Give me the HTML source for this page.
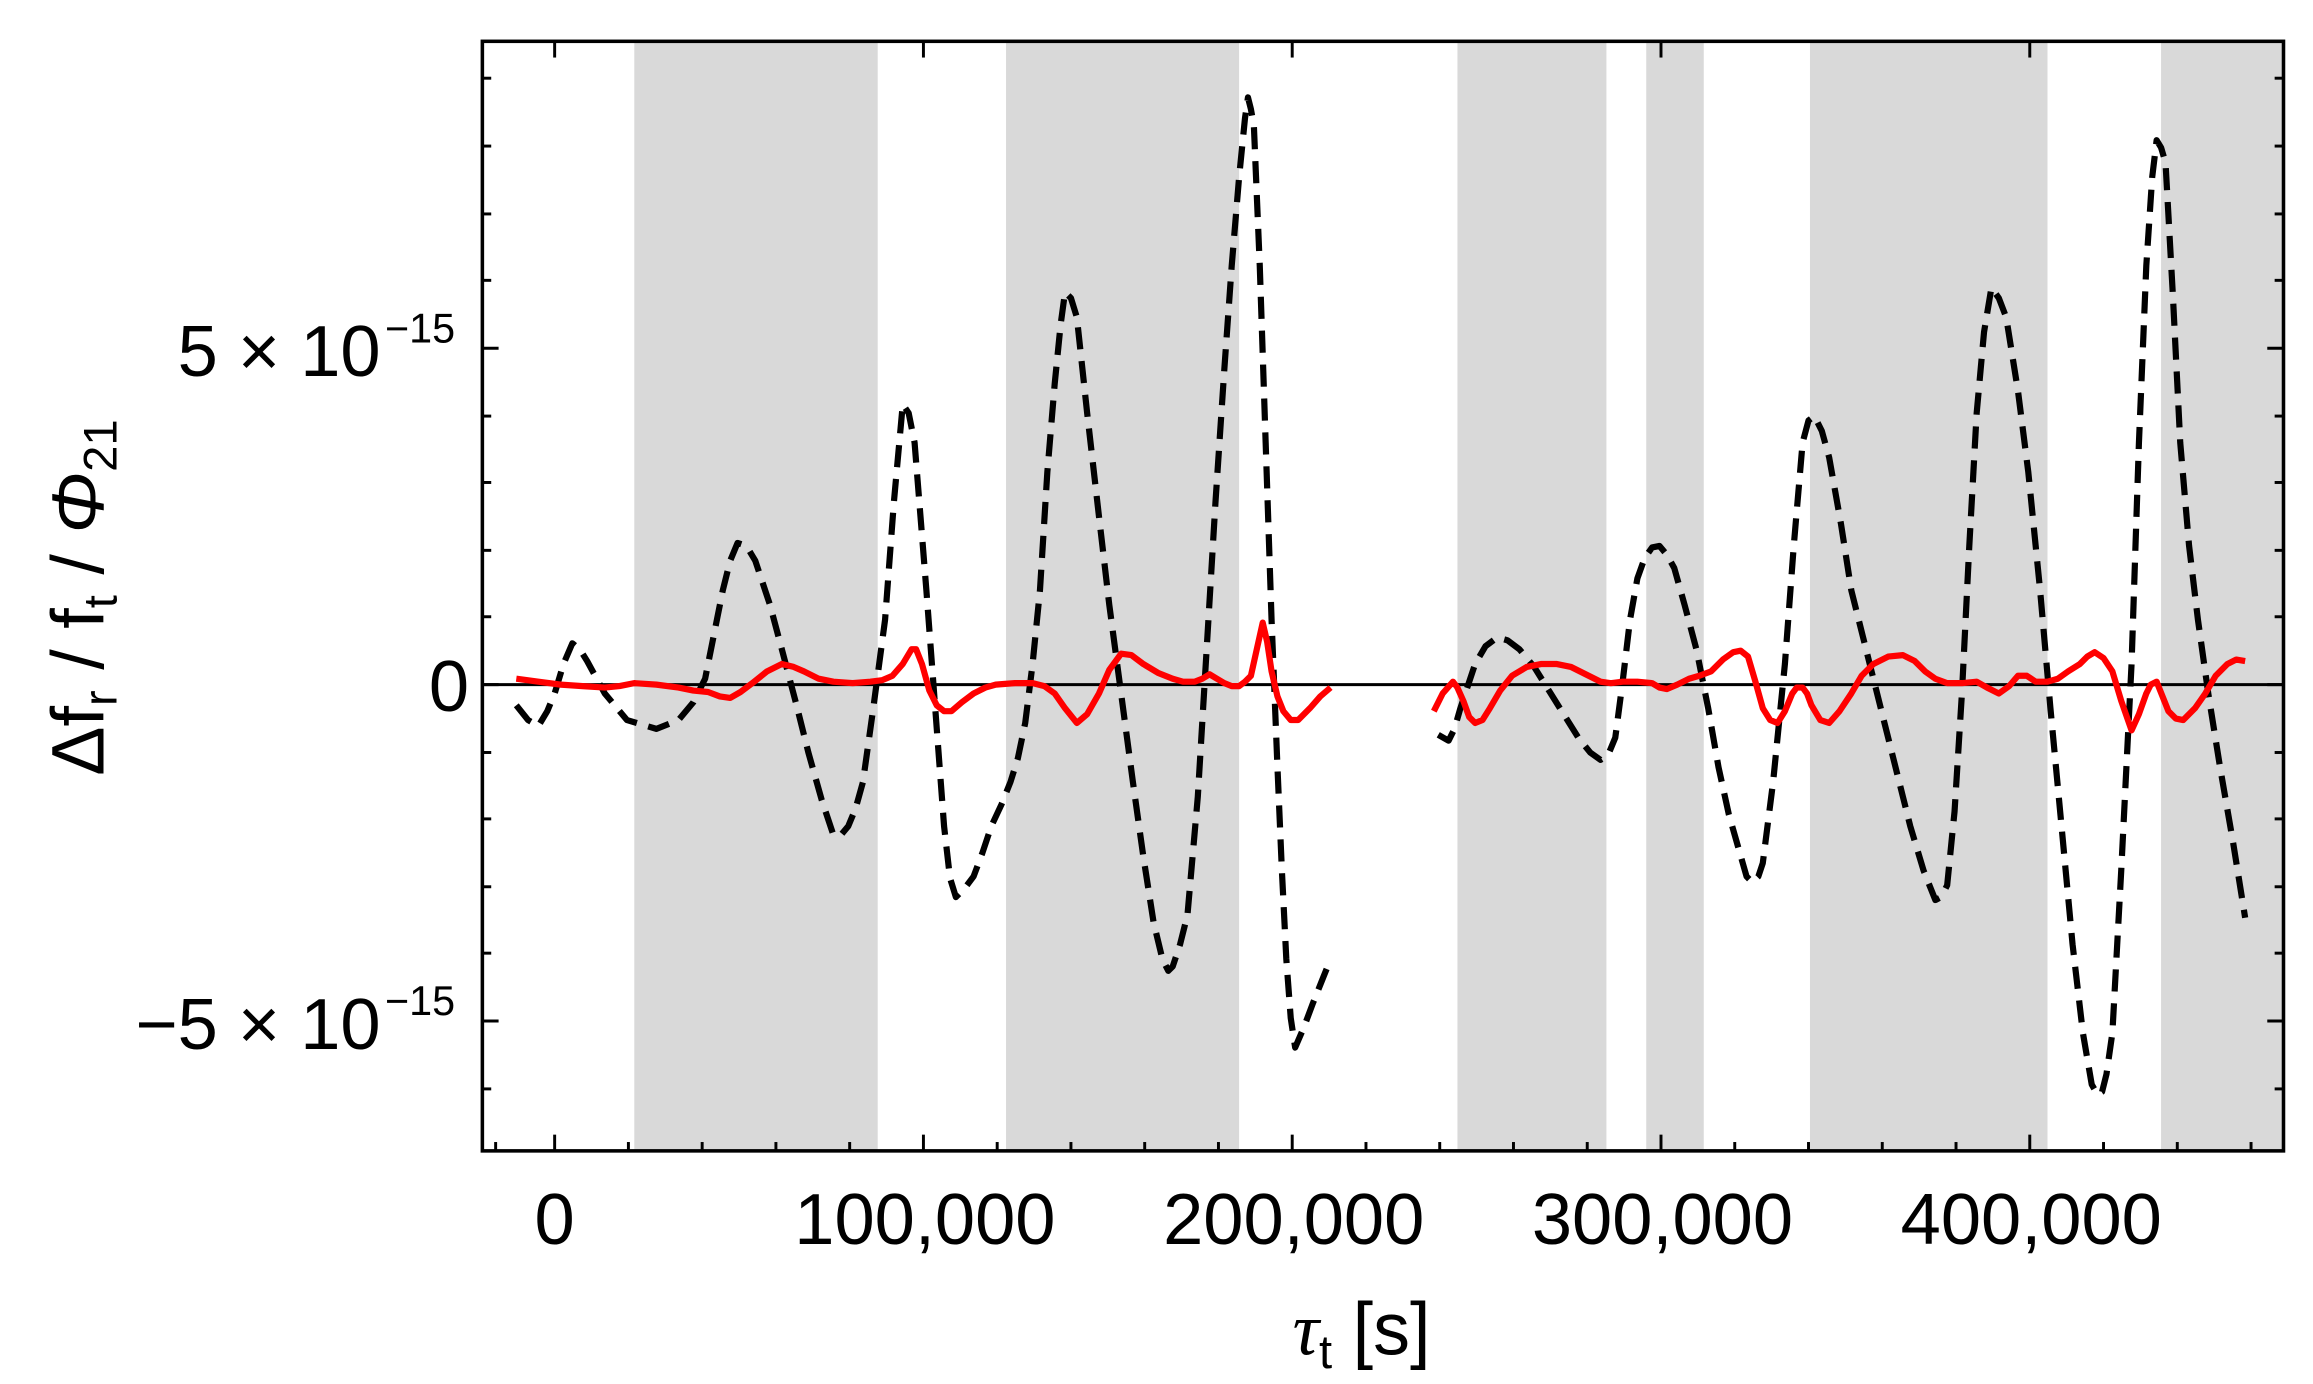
<!DOCTYPE html>
<html><head><meta charset="utf-8"><style>
html,body{margin:0;padding:0;background:#fff;}
svg{display:block;}
text{font-family:"Liberation Sans",sans-serif;fill:#000;}
</style></head><body>
<svg width="2313" height="1384" viewBox="0 0 1568 938" preserveAspectRatio="none" xmlns="http://www.w3.org/2000/svg">
<rect x="0" y="0" width="1568" height="938" fill="#fff"/>
<g fill="#d9d9d9">
<rect x="430" y="28" width="165" height="752"/>
<rect x="682" y="28" width="158" height="752"/>
<rect x="988" y="28" width="101" height="752"/>
<rect x="1116" y="28" width="39" height="752"/>
<rect x="1227" y="28" width="161" height="752"/>
<rect x="1465" y="28" width="83" height="752"/>
</g>
<line x1="327" y1="464" x2="1548" y2="464" stroke="#000" stroke-width="2"/>
<polyline fill="none" stroke="#000" stroke-width="4.2" stroke-dasharray="15,8" stroke-linejoin="round" points="350,478 358,488 365,492 371,482 376,470 382,450 388,436 393,440 398,448 410,470 425,488 445,494 460,488 470,476 478,460 485,425 490,400 495,380 500,368 506,370 512,380 522,410 530,440 540,478 548,510 557,542 565,566 570,566 575,560 580,548 585,530 592,480 600,420 606,340 612,274 616,280 620,300 624,350 628,400 634,480 640,560 644,595 648,608 654,602 660,594 666,578 672,560 679,545 685,530 690,514 695,490 700,450 705,400 710,320 715,260 719,220 722,198 726,202 730,215 737,280 745,350 752,410 760,470 768,530 775,580 782,625 788,650 792,658 795,655 800,640 805,620 812,540 818,440 824,340 830,250 835,180 840,120 844,80 846,66 848,74 850,85 854,180 858,300 862,420 866,520 869,590 872,650 875,690 878,710 884,696 890,680 896,665 902,650"/>
<polyline fill="none" stroke="#000" stroke-width="4.2" stroke-dasharray="15,8" stroke-linejoin="round" points="975,498 982,502 986,494 990,480 995,465 1000,450 1007,438 1015,432 1022,434 1030,440 1040,452 1050,468 1060,484 1070,500 1078,510 1085,515 1090,512 1095,500 1100,462 1105,420 1110,392 1115,378 1120,371 1125,370 1130,376 1135,385 1142,410 1150,440 1158,480 1165,520 1172,552 1180,580 1184,594 1188,598 1192,594 1195,585 1202,530 1210,450 1216,370 1222,300 1226,285 1230,282 1235,292 1240,310 1248,355 1255,400 1265,440 1275,480 1285,520 1295,560 1304,590 1312,610 1316,608 1320,600 1325,550 1330,470 1335,370 1340,280 1345,225 1350,195 1355,202 1360,215 1368,265 1375,320 1383,400 1390,480 1398,565 1405,640 1412,700 1418,735 1422,742 1425,740 1428,728 1432,700 1438,590 1445,450 1450,300 1455,180 1459,120 1462,95 1465,100 1468,110 1473,200 1478,300 1484,370 1490,420 1497,470 1505,520 1514,572 1522,622"/>
<polyline fill="none" stroke="#ff0000" stroke-width="4.2" stroke-linejoin="round" points="350,460 365,462 380,464 395,465 410,466 420,465 430,463 445,464 460,466 470,468 480,469 488,472 495,473 502,469 510,463 520,455 530,450 538,452 545,455 555,460 565,462 578,463 590,462 598,461 605,458 612,450 618,440 621,440 625,450 630,468 635,478 640,482 645,482 652,476 660,470 668,466 675,464 688,463 700,463 708,465 715,470 722,480 730,490 737,484 745,470 752,454 760,443 767,444 775,450 785,456 795,460 802,462 810,462 815,460 820,457 825,460 830,463 835,465 840,465 844,462 848,458 852,440 856,422 859,435 862,455 866,472 870,482 875,488 880,488 888,480 895,472 902,466"/>
<polyline fill="none" stroke="#ff0000" stroke-width="4.2" stroke-linejoin="round" points="972,482 978,470 985,462 988,466 992,475 996,486 1000,490 1005,488 1010,480 1017,468 1025,458 1035,452 1045,450 1055,450 1065,452 1075,457 1085,462 1092,463 1100,462 1110,462 1120,463 1125,466 1130,467 1137,464 1145,460 1152,458 1160,455 1168,447 1175,442 1180,441 1185,445 1190,462 1195,480 1200,488 1205,490 1210,482 1215,470 1218,466 1222,466 1225,470 1228,478 1234,488 1240,490 1247,482 1255,470 1262,458 1270,450 1280,445 1290,444 1298,448 1305,455 1312,460 1320,463 1330,463 1340,462 1347,466 1355,470 1362,465 1368,458 1374,458 1380,462 1388,462 1395,460 1402,455 1410,450 1415,445 1420,442 1426,446 1432,455 1438,475 1445,495 1450,484 1455,470 1458,464 1462,462 1466,472 1470,482 1475,487 1480,488 1488,480 1495,470 1502,458 1510,450 1516,447 1522,448"/>
<rect x="327" y="28" width="1221" height="752" fill="none" stroke="#000" stroke-width="2.4"/>
<g stroke="#000" stroke-width="2">
<line x1="376" y1="780" x2="376" y2="769"/><line x1="626" y1="780" x2="626" y2="769"/><line x1="876" y1="780" x2="876" y2="769"/><line x1="1126" y1="780" x2="1126" y2="769"/><line x1="1376" y1="780" x2="1376" y2="769"/>
<line x1="376" y1="28" x2="376" y2="39"/><line x1="626" y1="28" x2="626" y2="39"/><line x1="876" y1="28" x2="876" y2="39"/><line x1="1126" y1="28" x2="1126" y2="39"/><line x1="1376" y1="28" x2="1376" y2="39"/>
<line x1="426" y1="780" x2="426" y2="774"/><line x1="476" y1="780" x2="476" y2="774"/><line x1="526" y1="780" x2="526" y2="774"/><line x1="576" y1="780" x2="576" y2="774"/>
<line x1="676" y1="780" x2="676" y2="774"/><line x1="726" y1="780" x2="726" y2="774"/><line x1="776" y1="780" x2="776" y2="774"/><line x1="826" y1="780" x2="826" y2="774"/>
<line x1="926" y1="780" x2="926" y2="774"/><line x1="976" y1="780" x2="976" y2="774"/><line x1="1026" y1="780" x2="1026" y2="774"/><line x1="1076" y1="780" x2="1076" y2="774"/>
<line x1="1176" y1="780" x2="1176" y2="774"/><line x1="1226" y1="780" x2="1226" y2="774"/><line x1="1276" y1="780" x2="1276" y2="774"/><line x1="1326" y1="780" x2="1326" y2="774"/>
<line x1="1426" y1="780" x2="1426" y2="774"/><line x1="1476" y1="780" x2="1476" y2="774"/><line x1="1526" y1="780" x2="1526" y2="774"/><line x1="336" y1="780" x2="336" y2="774"/>
<line x1="327" y1="236" x2="338" y2="236"/><line x1="327" y1="464" x2="338" y2="464"/><line x1="327" y1="692" x2="338" y2="692"/>
<line x1="1548" y1="236" x2="1537" y2="236"/><line x1="1548" y1="464" x2="1537" y2="464"/><line x1="1548" y1="692" x2="1537" y2="692"/>
<line x1="327" y1="53" x2="333" y2="53"/><line x1="327" y1="99" x2="333" y2="99"/><line x1="327" y1="145" x2="333" y2="145"/><line x1="327" y1="190" x2="333" y2="190"/>
<line x1="327" y1="282" x2="333" y2="282"/><line x1="327" y1="327" x2="333" y2="327"/><line x1="327" y1="373" x2="333" y2="373"/><line x1="327" y1="418" x2="333" y2="418"/>
<line x1="327" y1="510" x2="333" y2="510"/><line x1="327" y1="555" x2="333" y2="555"/><line x1="327" y1="601" x2="333" y2="601"/><line x1="327" y1="646" x2="333" y2="646"/>
<line x1="327" y1="738" x2="333" y2="738"/>
<line x1="1548" y1="53" x2="1542" y2="53"/><line x1="1548" y1="99" x2="1542" y2="99"/><line x1="1548" y1="145" x2="1542" y2="145"/><line x1="1548" y1="190" x2="1542" y2="190"/>
<line x1="1548" y1="282" x2="1542" y2="282"/><line x1="1548" y1="327" x2="1542" y2="327"/><line x1="1548" y1="373" x2="1542" y2="373"/><line x1="1548" y1="418" x2="1542" y2="418"/>
<line x1="1548" y1="510" x2="1542" y2="510"/><line x1="1548" y1="555" x2="1542" y2="555"/><line x1="1548" y1="601" x2="1542" y2="601"/><line x1="1548" y1="646" x2="1542" y2="646"/>
<line x1="1548" y1="738" x2="1542" y2="738"/>
</g>
<g font-size="49" text-anchor="middle">
<text x="376" y="843">0</text>
<text x="627" y="843">100,000</text>
<text x="877" y="843">200,000</text>
<text x="1127" y="843">300,000</text>
<text x="1377" y="843">400,000</text>
</g>
<g font-size="49" text-anchor="end">
<text x="318" y="482">0</text>
<text x="258" y="255">5 × 10</text>
<text x="258" y="711">−5 × 10</text>
</g>
<g font-size="28" text-anchor="start">
<text x="261" y="232">−15</text>
<text x="261" y="688">−15</text>
</g>
<text x="923" y="918" font-size="50" text-anchor="middle"><tspan font-style="italic" font-family="Liberation Serif, serif">τ</tspan><tspan font-size="32" dy="9">t</tspan><tspan dy="-9"> [s]</tspan></text>
<text transform="translate(70,405) rotate(-90)" font-size="50" text-anchor="middle">Δf<tspan font-size="32" dy="9">r</tspan><tspan dy="-9"> / f</tspan><tspan font-size="32" dy="9">t</tspan><tspan dy="-9"> / </tspan><tspan font-style="italic">Φ</tspan><tspan font-size="32" dy="9">21</tspan></text>
</svg>
</body></html>
